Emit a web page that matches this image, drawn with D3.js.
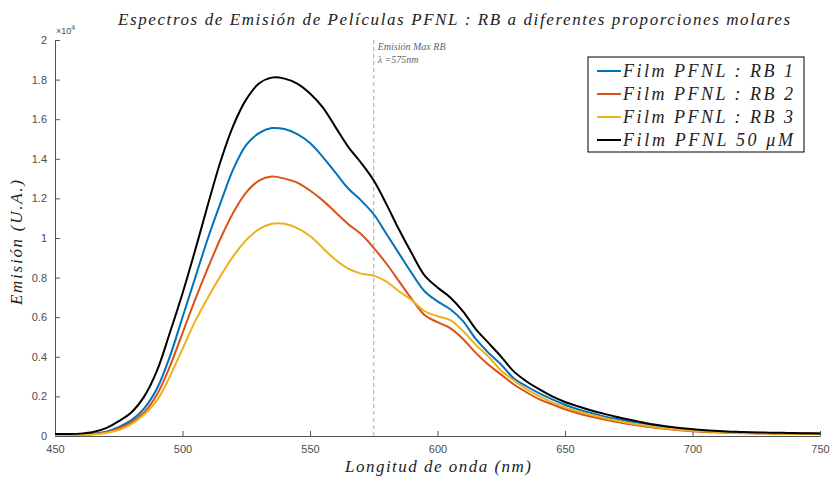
<!DOCTYPE html>
<html>
<head>
<meta charset="utf-8">
<script src="https://cdn.jsdelivr.net/npm/d3@7"></script>
<style>
  body { margin: 0; background: #fff; }
  svg { display: block; }
  .tick text { font-family: "Liberation Sans", Arial, sans-serif; font-size: 11px; fill: #4d4d4d; }
  .serif { font-family: "Liberation Serif", serif; font-style: italic; font-weight: normal; fill: #222; }
</style>
</head>
<body>
<div id="chart"></div>
<script>
// wavelength (nm), 5 nm steps
const wavelengths = [450, 455, 460, 465, 470, 475, 480, 485, 490, 495,
  500, 505, 510, 515, 520, 525, 530, 535, 540, 545,
  550, 555, 560, 565, 570, 575, 580, 585, 590, 595,
  600, 605, 610, 615, 620, 625, 630, 635, 640, 645,
  650, 655, 660, 665, 670, 675, 680, 685, 690, 695,
  700, 705, 710, 715, 720, 725, 730, 735, 740, 745, 750];

// emission, in units of 1e4
const rb1 = [0.008, 0.008, 0.009, 0.012, 0.022, 0.045, 0.08, 0.14, 0.24, 0.40,
  0.60, 0.80, 1.00, 1.18, 1.35, 1.47, 1.53, 1.555, 1.55, 1.525,
  1.48, 1.41, 1.33, 1.25, 1.19, 1.12, 1.02, 0.92, 0.82, 0.73,
  0.68, 0.64, 0.58, 0.49, 0.42, 0.36, 0.29, 0.25, 0.215, 0.185,
  0.158, 0.135, 0.117, 0.10, 0.087, 0.075, 0.064, 0.053, 0.044, 0.037,
  0.031, 0.026, 0.023, 0.020, 0.018, 0.016, 0.015, 0.014, 0.013, 0.012, 0.012];

const rb2 = [0.006, 0.006, 0.007, 0.010, 0.018, 0.038, 0.07, 0.12, 0.21, 0.35,
  0.52, 0.69, 0.85, 1.00, 1.13, 1.23, 1.29, 1.31, 1.30, 1.28,
  1.24, 1.19, 1.13, 1.07, 1.02, 0.95, 0.87, 0.78, 0.69, 0.61,
  0.575, 0.545, 0.49, 0.42, 0.36, 0.31, 0.26, 0.22, 0.185, 0.16,
  0.135, 0.115, 0.098, 0.084, 0.072, 0.060, 0.050, 0.042, 0.035, 0.029,
  0.024, 0.020, 0.018, 0.016, 0.014, 0.013, 0.012, 0.011, 0.011, 0.010, 0.010];

const rb3 = [0.005, 0.005, 0.006, 0.008, 0.015, 0.030, 0.06, 0.11, 0.18, 0.30,
  0.44, 0.58, 0.70, 0.81, 0.91, 0.99, 1.045, 1.072, 1.072, 1.05,
  1.01, 0.95, 0.89, 0.845, 0.82, 0.81, 0.78, 0.73, 0.685, 0.63,
  0.605, 0.585, 0.53, 0.46, 0.40, 0.33, 0.28, 0.235, 0.20, 0.17,
  0.145, 0.125, 0.107, 0.092, 0.078, 0.066, 0.055, 0.046, 0.038, 0.032,
  0.027, 0.023, 0.020, 0.017, 0.015, 0.014, 0.013, 0.012, 0.012, 0.011, 0.011];

const pfnl = [0.010, 0.010, 0.012, 0.020, 0.040, 0.075, 0.12, 0.20, 0.33, 0.52,
  0.72, 0.94, 1.17, 1.39, 1.57, 1.70, 1.78, 1.81, 1.805, 1.78,
  1.73, 1.66, 1.56, 1.46, 1.38, 1.29, 1.17, 1.04, 0.92, 0.81,
  0.75, 0.70, 0.63, 0.54, 0.47, 0.40, 0.325, 0.275, 0.235, 0.20,
  0.172, 0.15, 0.13, 0.113, 0.097, 0.083, 0.070, 0.058, 0.048, 0.040,
  0.034, 0.029, 0.025, 0.022, 0.020, 0.018, 0.017, 0.016, 0.015, 0.014, 0.013];

const seriesNames = ["Film PFNL : RB 1", "Film PFNL : RB 2", "Film PFNL : RB 3", "Film PFNL 50 \u03BCM"];
const seriesColors = ["#0072BD", "#D95319", "#EDB120", "#000000"];
const xTicks = [450, 500, 550, 600, 650, 700, 750];
const yTicks = [0, 0.2, 0.4, 0.6, 0.8, 1, 1.2, 1.4, 1.6, 1.8, 2];
const maxLine = 575;

const W = 834, H = 477;
const margin = { top: 40, right: 14, bottom: 41, left: 55 };

const svg = d3.select("#chart").append("svg")
  .attr("width", W)
  .attr("height", H);

const x = d3.scaleLinear().domain([450, 750]).range([margin.left, W - margin.right]);
const y = d3.scaleLinear().domain([0, 2]).range([H - margin.bottom, margin.top]);

// axes (ticks pointing inward like matlab)
svg.append("g")
  .attr("transform", `translate(0,${H - margin.bottom})`)
  .call(d3.axisBottom(x).tickValues(xTicks).tickSizeInner(-5).tickSizeOuter(0).tickPadding(9))
  .call(g => g.select(".domain").attr("stroke", "#555"))
  .call(g => g.selectAll(".tick line").attr("stroke", "#555"));

svg.append("g")
  .attr("transform", `translate(${margin.left},0)`)
  .call(d3.axisLeft(y).tickValues(yTicks).tickFormat(d3.format("~g")).tickSizeInner(-5).tickSizeOuter(0).tickPadding(8))
  .call(g => g.select(".domain").attr("stroke", "#555"))
  .call(g => g.selectAll(".tick line").attr("stroke", "#555"));

// x10^4 exponent label
const expo = svg.append("text")
  .attr("x", margin.left + 1)
  .attr("y", margin.top - 6)
  .attr("font-family", "Liberation Sans, Arial, sans-serif")
  .attr("font-size", 9)
  .attr("fill", "#4d4d4d");
expo.append("tspan").text("\u00D710");
expo.append("tspan").attr("dy", -4).attr("font-size", 7).text("4");

// dashed line at max emission of RB
svg.append("line")
  .attr("x1", x(maxLine)).attr("x2", x(maxLine))
  .attr("y1", y(2)).attr("y2", y(0))
  .attr("stroke", "#aaa")
  .attr("stroke-width", 1)
  .attr("stroke-dasharray", "4,3");

svg.append("text").attr("class", "serif")
  .attr("x", x(maxLine) + 4).attr("y", 50)
  .attr("font-size", 10).style("fill", "#666")
  .text("Emisi\u00F3n Max RB");
svg.append("text").attr("class", "serif")
  .attr("x", x(maxLine) + 4).attr("y", 63)
  .attr("font-size", 10).style("fill", "#666")
  .text("\u03BB =" + maxLine + "nm");

// curves
const allSeries = [rb1, rb2, rb3, pfnl];
const line = d3.line()
  .x((d, i) => x(wavelengths[i]))
  .y(d => y(d))
  .curve(d3.curveCatmullRom.alpha(0.5));

allSeries.forEach((s, k) => {
  svg.append("path")
    .datum(s)
    .attr("fill", "none")
    .attr("stroke", seriesColors[k])
    .attr("stroke-width", 2)
    .attr("stroke-linejoin", "round")
    .attr("d", line);
});

// title
svg.append("text").attr("class", "serif")
  .attr("x", 118).attr("y", 25)
  .attr("font-size", 17)
  .attr("textLength", 672)
  .attr("lengthAdjust", "spacing")
  .text("Espectros de Emisi\u00F3n de Pel\u00EDculas PFNL : RB a diferentes proporciones molares");

// axis labels
svg.append("text").attr("class", "serif")
  .attr("x", 345).attr("y", 472)
  .attr("font-size", 17)
  .attr("textLength", 186)
  .attr("lengthAdjust", "spacing")
  .text("Longitud de onda (nm)");

svg.append("text").attr("class", "serif")
  .attr("transform", "translate(22,305) rotate(-90)")
  .attr("font-size", 17)
  .attr("textLength", 125)
  .attr("lengthAdjust", "spacing")
  .text("Emisi\u00F3n (U.A.)");

// legend
const legend = svg.append("g").attr("transform", "translate(588,57)");
legend.append("rect")
  .attr("width", 216).attr("height", 95)
  .attr("fill", "#fff")
  .attr("stroke", "#000")
  .attr("stroke-width", 1);

seriesNames.forEach((name, k) => {
  const ly = 14 + k * 23;
  legend.append("line")
    .attr("x1", 9).attr("x2", 33)
    .attr("y1", ly).attr("y2", ly)
    .attr("stroke", seriesColors[k])
    .attr("stroke-width", 2);
  legend.append("text").attr("class", "serif")
    .attr("x", 35).attr("y", ly + 6)
    .attr("font-size", 18)
    .attr("textLength", 170)
    .attr("lengthAdjust", "spacing")
    .text(name);
});
</script>
</body>
</html>
